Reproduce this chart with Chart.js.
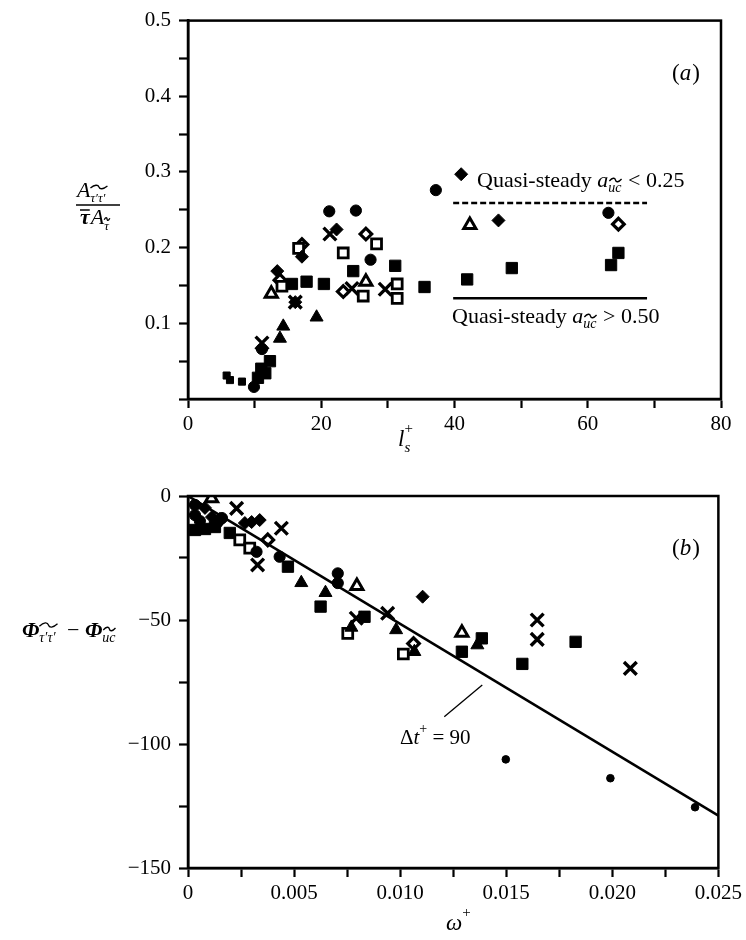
<!DOCTYPE html>
<html>
<head>
<meta charset="utf-8">
<script src="https://cdn.jsdelivr.net/npm/chart.js@4.4.1/dist/chart.umd.min.js"></script>
<style>
  body { margin: 0; background: #fff; }
  #wrap { position: relative; width: 746px; height: 940px; }
  canvas { position: absolute; left: 0; }
  #chartA { top: 0; }
  #chartB { top: 470px; }
</style>
</head>
<body>
<div id="wrap">
  <canvas id="chartA" width="746" height="470"></canvas>
  <canvas id="chartB" width="746" height="470"></canvas>
</div>
<script>
// ---- panel (a): amplitude ratio against l_s+ ----
const aTicksX = [0, 10, 20, 30, 40, 50, 60, 70, 80];
const aLabelsX = ['0', '', '20', '', '40', '', '60', '', '80'];
const aTicksY = [0, 0.05, 0.1, 0.15, 0.2, 0.25, 0.3, 0.35, 0.4, 0.45, 0.5];
const aLabelsY = ['', '', '0.1', '', '0.2', '', '0.3', '', '0.4', '', '0.5'];

const aSmallSquares = [[5.8, 0.031], [6.3, 0.025], [8.1, 0.023]];
const aSolidSquares = [[10.5, 0.028], [11.6, 0.034], [12.3, 0.050], [11.0, 0.040], [15.6, 0.152], [17.8, 0.155],
  [20.4, 0.152], [24.8, 0.169], [31.1, 0.176], [35.5, 0.148], [41.9, 0.158], [48.6, 0.173], [63.5, 0.177], [64.6, 0.193]];
const aSolidCircles = [[9.9, 0.016], [11.1, 0.066], [21.2, 0.248], [25.2, 0.249], [27.4, 0.184], [37.2, 0.276], [63.1, 0.246]];
const aSolidDiamonds = [[13.4, 0.169], [16.1, 0.128], [17.1, 0.188], [22.3, 0.224], [41.0, 0.297], [46.6, 0.236]];
const aOpenDiamonds = [[13.8, 0.157], [17.1, 0.204], [23.3, 0.142], [26.7, 0.218], [64.6, 0.231]];
const aOpenSquares = [[14.1, 0.149], [16.6, 0.199], [23.3, 0.193], [26.3, 0.136], [28.3, 0.205], [31.4, 0.152], [31.4, 0.133]];
const aOpenTriangles = [[12.5, 0.139], [26.7, 0.155], [42.3, 0.230]];
const aSolidTriangles = [[13.8, 0.080], [14.3, 0.096], [19.3, 0.108]];
const aCrosses = [[11.1, 0.074], [16.1, 0.128], [21.3, 0.218], [24.6, 0.146], [29.6, 0.145]];
const aQuasiLow = [[39.8, 0.259], [68.9, 0.259]];   // dashed, a < 0.25
const aQuasiHigh = [[39.8, 0.133], [68.9, 0.133]];  // solid, a > 0.50

// ---- panel (b): phase difference against omega+ ----
const bTicksX = [0, 0.0025, 0.005, 0.0075, 0.01, 0.0125, 0.015, 0.0175, 0.02, 0.0225, 0.025];
const bLabelsX = ['0', '', '0.005', '', '0.010', '', '0.015', '', '0.020', '', '0.025'];
const bTicksY = [-150, -125, -100, -75, -50, -25, 0];
const bLabelsY = ['\u2212150', '', '\u2212100', '', '\u221250', '', '0'];

const bSolidSquares = [[0.00033, -13.7], [0.0008, -13.3], [0.00127, -12.5], [0.00197, -14.9], [0.00471, -28.5],
  [0.00625, -44.6], [0.00832, -48.7], [0.01291, -62.8], [0.01385, -57.4], [0.01576, -67.7], [0.01827, -58.8]];
const bSolidCircles = [[0.00033, -3.6], [0.00033, -7.7], [0.00056, -10.1], [0.00136, -10.9], [0.0016, -8.9],
  [0.00432, -24.5], [0.00706, -31.2], [0.00706, -35.1], [0.00323, -22.5]];
const bSmallDots = [[0.01498, -106.2], [0.01991, -113.8], [0.0239, -125.5]];
const bSolidDiamonds = [[0.0008, -4.8], [0.00113, -8.5], [0.00268, -10.9], [0.003, -10.5], [0.00338, -9.7], [0.01106, -40.6]];
const bOpenDiamonds = [[0.0015, -9.7], [0.00376, -17.7], [0.01063, -59.5]];
const bOpenSquares = [[0.00244, -17.7], [0.00291, -21.0], [0.00753, -55.4], [0.01015, -63.7]];
const bOpenTriangles = [[0.00111, -0.9], [0.00796, -36.3], [0.01291, -55.1]];
const bSolidTriangles = [[0.00534, -35.0], [0.00648, -39.0], [0.0077, -53.0], [0.00981, -54.0], [0.01067, -62.8], [0.01364, -60.1]];
const bCrosses = [[0.00229, -5.0], [0.0044, -13.0], [0.00328, -27.8], [0.00793, -49.3], [0.00941, -47.3],
  [0.01646, -50.0], [0.01646, -57.8], [0.02085, -69.5]];
const bFitLine = [[0, 0], [0.025, -128.9]];            // delta t+ = 90
const bLeader = [[0.01387, -76.2], [0.01208, -89.0]];

const SERIF = '"Liberation Serif", "DejaVu Serif", serif';

function pts(list) { return list.map(p => ({ x: p[0], y: p[1] })); }

function marker(list, style, r, open, bw) {
  return {
    data: pts(list), pointStyle: style, pointRadius: r, showLine: false,
    backgroundColor: open ? '#fff' : '#000', borderColor: '#000',
    borderWidth: bw == null ? (open ? 2.8 : 1) : bw
  };
}

function lineSet(list, width, dash) {
  return {
    data: pts(list), showLine: true, pointRadius: 0, borderColor: '#000',
    borderWidth: width, borderDash: dash || [], fill: false
  };
}

function axisOpts(min, max, ticks, labels, isY, size) {
  return {
    type: 'linear', min: min, max: max,
    afterBuildTicks: s => { s.ticks = ticks.map(v => ({ value: v })); },
    afterFit: s => { if (isY) s.width = size; else s.height = size; },
    ticks: {
      autoSkip: false, maxRotation: 0, color: '#000', padding: isY ? 8 : 4,
      font: { family: SERIF, size: 21 },
      callback: (v, i) => labels[i]
    },
    grid: { drawOnChartArea: false, drawTicks: true, tickLength: 9, tickWidth: 2.2, tickColor: '#000' },
    border: { display: true, color: '#000', width: 2.5 }
  };
}

// text helpers
function put(ctx, s, x, y, size, style) {
  ctx.font = (style || '') + ' ' + size + 'px ' + SERIF;
  ctx.textAlign = 'left';
  ctx.textBaseline = 'alphabetic';
  ctx.fillText(s, x, y);
  return x + ctx.measureText(s).width;
}

function tilde(ctx, x0, x1, y, amp) {
  const w = x1 - x0;
  ctx.beginPath();
  ctx.moveTo(x0, y + amp * 0.4);
  ctx.bezierCurveTo(x0 + w * 0.25, y - amp, x0 + w * 0.45, y - amp, x0 + w * 0.5, y);
  ctx.bezierCurveTo(x0 + w * 0.55, y + amp, x0 + w * 0.75, y + amp, x1, y - amp * 0.4);
  ctx.lineWidth = 1.3;
  ctx.strokeStyle = '#000';
  ctx.stroke();
}

function quasiLabel(ctx, x, y, rel) {
  let cx = put(ctx, 'Quasi-steady ', x, y, 22);
  cx = put(ctx, 'a', cx, y, 22, 'italic');
  const sx = cx;
  cx = put(ctx, 'uc', cx, y + 5, 14, 'italic');
  tilde(ctx, sx + 1, cx, y - 7, 2.5);
  put(ctx, rel, cx + 1, y, 22);
}

function frameBox(chart) {
  const a = chart.chartArea, ctx = chart.ctx;
  ctx.save();
  ctx.strokeStyle = '#000';
  ctx.lineWidth = 2.5;
  ctx.strokeRect(a.left, a.top, a.right - a.left, a.bottom - a.top);
  ctx.restore();
}

const textA = {
  id: 'textA',
  afterDraw(chart) {
    const ctx = chart.ctx;
    frameBox(chart);
    ctx.save();
    ctx.fillStyle = '#000';
    // panel tag
    let cx = put(ctx, '(', 672, 80, 23);
    cx = put(ctx, 'a', cx, 80, 23, 'italic');
    put(ctx, ')', cx + 1, 80, 23);
    // quasi-steady labels
    quasiLabel(ctx, 477, 187, ' < 0.25');
    quasiLabel(ctx, 452, 323, ' > 0.50');
    // x title l_s^+
    cx = put(ctx, 'l', 398, 446, 23, 'italic');
    put(ctx, 's', cx, 452, 15, 'italic');
    put(ctx, '+', cx, 433, 15);
    // y title fraction
    cx = put(ctx, 'A', 77, 197, 22, 'italic');
    const s0 = cx;
    cx = put(ctx, '\u03c4\u2032\u03c4\u2032', cx, 202, 13, 'italic');
    tilde(ctx, s0, cx + 2, 187, 2.5);
    ctx.beginPath();
    ctx.moveTo(76, 205); ctx.lineTo(120, 205);
    ctx.lineWidth = 1.6; ctx.stroke();
    cx = put(ctx, '\u03c4', 80, 224, 22, 'italic bold');
    ctx.beginPath();
    ctx.moveTo(80, 210); ctx.lineTo(cx, 210);
    ctx.lineWidth = 1.5; ctx.stroke();
    cx = put(ctx, 'A', cx + 1, 224, 22, 'italic');
    const s1 = cx;
    cx = put(ctx, '\u03c4', cx, 230, 13, 'italic');
    tilde(ctx, s1, cx + 1, 219, 2);
    ctx.restore();
  }
};

const textB = {
  id: 'textB',
  afterDraw(chart) {
    const ctx = chart.ctx;
    frameBox(chart);
    ctx.save();
    ctx.fillStyle = '#000';
    let cx = put(ctx, '(', 672, 85, 23);
    cx = put(ctx, 'b', cx, 85, 23, 'italic');
    put(ctx, ')', cx + 1, 85, 23);
    // delta t label
    cx = put(ctx, '\u0394', 400, 274, 21);
    cx = put(ctx, 't', cx, 274, 21, 'italic');
    cx = put(ctx, '+', cx, 263, 14);
    put(ctx, ' = 90', cx, 274, 21);
    // x title omega+
    cx = put(ctx, '\u03c9', 446, 460, 23, 'italic');
    put(ctx, '+', cx, 447, 15);
    // y title
    cx = put(ctx, '\u03a6', 22, 167, 22, 'italic bold');
    const s0 = cx;
    cx = put(ctx, '\u03c4\u2032\u03c4\u2032', cx, 172, 14, 'italic');
    tilde(ctx, s0, cx + 2, 155, 3);
    cx = put(ctx, ' \u2212 ', cx + 6, 167, 22);
    cx = put(ctx, '\u03a6', cx, 167, 22, 'italic bold');
    const s1 = cx;
    cx = put(ctx, 'uc', cx, 172, 14, 'italic');
    tilde(ctx, s1 + 1, cx, 159, 2.5);
    ctx.restore();
  }
};

const base = {
  responsive: false, animation: false,
  plugins: { legend: { display: false }, tooltip: { enabled: false } }
};

new Chart(document.getElementById('chartA'), {
  type: 'scatter',
  data: {
    datasets: [
      lineSet(aQuasiLow, 2.5, [6, 3]),
      lineSet(aQuasiHigh, 2.5),
      marker(aSmallSquares, 'rect', 5, false),
      marker(aSolidSquares, 'rect', 8, false),
      marker(aSolidCircles, 'circle', 5.6, false),
      marker(aSolidDiamonds, 'rectRot', 6.5, false),
      marker(aSolidTriangles, 'triangle', 7.5, false),
      marker(aOpenSquares, 'rect', 7, true),
      marker(aOpenDiamonds, 'rectRot', 5.8, true, 3.2),
      marker(aOpenTriangles, 'triangle', 7, true, 3),
      marker(aCrosses, 'crossRot', 9, false, 3.4)
    ]
  },
  options: Object.assign({}, base, {
    layout: { padding: { top: 12, right: 25, left: 0, bottom: 0 } },
    scales: {
      x: axisOpts(0, 80, aTicksX, aLabelsX, false, 71),
      y: axisOpts(0, 0.5, aTicksY, aLabelsY, true, 188)
    }
  }),
  plugins: [textA]
});

new Chart(document.getElementById('chartB'), {
  type: 'scatter',
  data: {
    datasets: [
      lineSet(bFitLine, 2.6),
      lineSet(bLeader, 1.3),
      marker(bSolidSquares, 'rect', 8, false),
      marker(bSolidCircles, 'circle', 5.6, false),
      marker(bSmallDots, 'circle', 3.8, false),
      marker(bSolidDiamonds, 'rectRot', 6.5, false),
      marker(bSolidTriangles, 'triangle', 7.5, false),
      marker(bOpenSquares, 'rect', 7, true),
      marker(bOpenDiamonds, 'rectRot', 5.8, true, 3.2),
      marker(bOpenTriangles, 'triangle', 7, true, 3),
      marker(bCrosses, 'crossRot', 9, false, 3.4)
    ]
  },
  options: Object.assign({}, base, {
    layout: { padding: { top: 26, right: 26, left: 0, bottom: 0 } },
    scales: {
      x: axisOpts(0, 0.025, bTicksX, bLabelsX, false, 72),
      y: axisOpts(-150, 0, bTicksY, bLabelsY, true, 188)
    }
  }),
  plugins: [textB]
});
</script>
</body>
</html>
